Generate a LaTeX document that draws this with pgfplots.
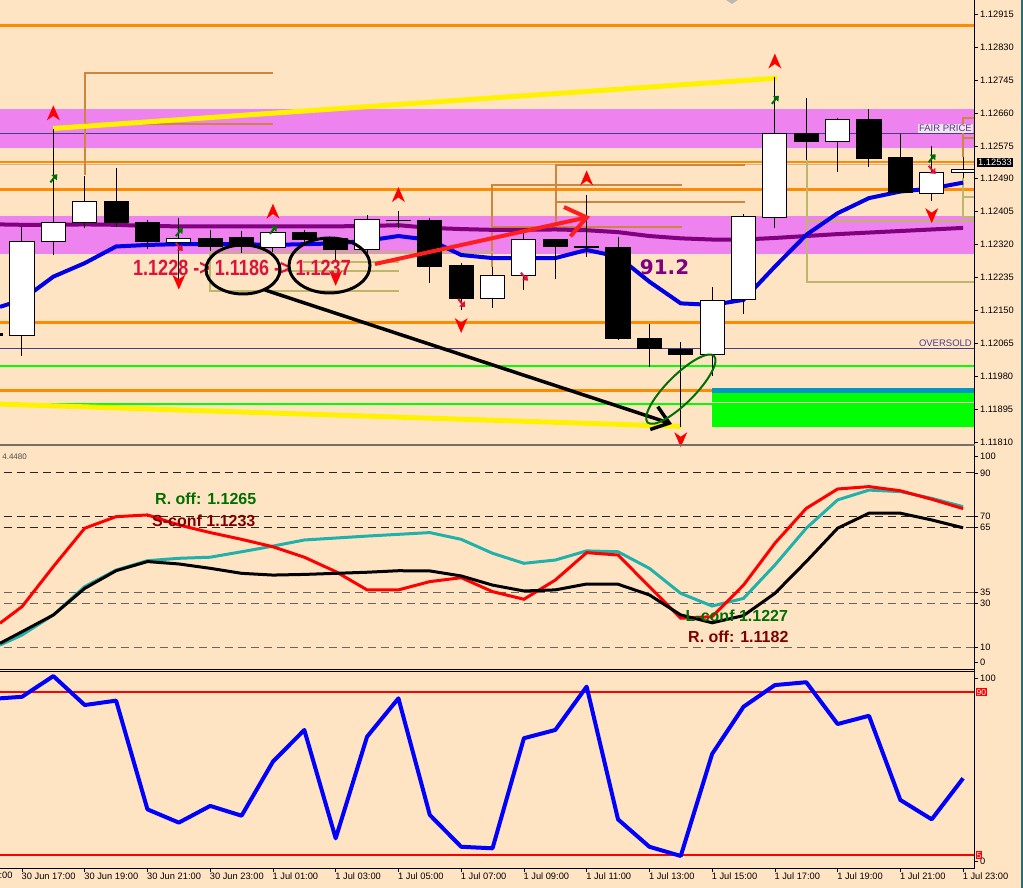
\documentclass[border=0pt]{standalone}
\usepackage{pgfplots}
\pgfplotsset{compat=1.18}
\usetikzlibrary{arrows.meta}
\usepackage{fontspec}
\setmainfont{Liberation Sans}
\newfontfamily\dejavu{DejaVu Sans}

\definecolor{bg}{RGB}{255,228,196}
\definecolor{band}{RGB}{238,130,238}
\definecolor{dorange}{RGB}{255,140,0}
\definecolor{maBlue}{RGB}{0,0,230}
\definecolor{maPurple}{RGB}{128,0,128}
\definecolor{peru}{RGB}{205,133,63}
\definecolor{khaki}{RGB}{189,183,107}
\definecolor{limeg}{RGB}{0,255,0}
\definecolor{lsea}{RGB}{32,178,170}
\definecolor{crim}{RGB}{220,20,60}
\definecolor{dslate}{RGB}{72,61,139}
\definecolor{dgreen}{RGB}{0,110,0}
\definecolor{maroonc}{RGB}{128,0,0}
\definecolor{tanl}{RGB}{210,180,140}
\definecolor{teal2}{RGB}{0,150,200}
\definecolor{sepgray}{RGB}{120,110,100}
\definecolor{arrred}{RGB}{255,30,30}

\pgfdeclareplotmark{fup}{%
 \pgfpathmoveto{\pgfqpoint{0pt}{8pt}}%
 \pgfpathlineto{\pgfqpoint{6.5pt}{-7pt}}%
 \pgfpathlineto{\pgfqpoint{0pt}{-2.5pt}}%
 \pgfpathlineto{\pgfqpoint{-6.5pt}{-7pt}}%
 \pgfpathclose\pgfusepathqfill}
\pgfdeclareplotmark{fdn}{%
 \pgfpathmoveto{\pgfqpoint{0pt}{-8pt}}%
 \pgfpathlineto{\pgfqpoint{6.5pt}{7pt}}%
 \pgfpathlineto{\pgfqpoint{0pt}{2.5pt}}%
 \pgfpathlineto{\pgfqpoint{-6.5pt}{7pt}}%
 \pgfpathclose\pgfusepathqfill}
\pgfdeclareplotmark{gar}{%
 \pgfsetlinewidth{2pt}%
 \pgfpathmoveto{\pgfqpoint{-3pt}{-4pt}}\pgfpathlineto{\pgfqpoint{1.5pt}{1.5pt}}\pgfusepathqstroke
 \pgfpathmoveto{\pgfqpoint{4pt}{4pt}}\pgfpathlineto{\pgfqpoint{-2pt}{3.5pt}}\pgfpathlineto{\pgfqpoint{3.5pt}{-2pt}}\pgfpathclose\pgfusepathqfill}
\pgfdeclareplotmark{rar}{%
 \pgfsetlinewidth{2pt}%
 \pgfpathmoveto{\pgfqpoint{-3pt}{4pt}}\pgfpathlineto{\pgfqpoint{1.5pt}{-1.5pt}}\pgfusepathqstroke
 \pgfpathmoveto{\pgfqpoint{4pt}{-4pt}}\pgfpathlineto{\pgfqpoint{-2pt}{-3.5pt}}\pgfpathlineto{\pgfqpoint{3.5pt}{2pt}}\pgfpathclose\pgfusepathqfill}

\pgfplotsset{
 mt/.style={scale only axis, width=974.5pt, xmin=-0.701, xmax=30.364,
   axis line style={draw=none}, ytick pos=right, yticklabel pos=right,
   tick align=outside, major tick length=3pt, tick style={black, line width=0.6pt},
   ticklabel style={font=\fontsize{9.3}{10}\selectfont},
   yticklabel style={anchor=west, inner sep=1pt, xshift=1.5pt},
   clip=true, anchor=north west},
 cw/.style={draw=black, fill=white, line width=1pt, solid},
 cb/.style={draw=black, fill=black, line width=1pt, solid},
}
% k, left, right, low, body low, body high, high, style
\newcommand{\candle}[8]{%
 \addplot[black, line width=1pt] coordinates {(#1,#4) (#1,#7)};
 \addplot[#8] coordinates {(#2,#5) (#3,#5) (#3,#6) (#2,#6)} -- cycle;}

\begin{document}
\begin{tikzpicture}
\useasboundingbox (0,0) rectangle (1023pt,888pt);
\fill[bg] (0,0) rectangle (1023pt,888pt);

% ================= PRICE PANEL =================
\begin{axis}[mt, at={(0pt,888pt)}, height=445pt,
  ymin=1.11802, ymax=1.12952, xtick=\empty,
  ytick={1.11810,1.11895,1.11980,1.12065,1.12150,1.12235,1.12320,1.12405,1.12490,1.12575,1.12660,1.12745,1.12830,1.12915},
  yticklabels={1.11810,1.11895,1.11980,1.12065,1.12150,1.12235,1.12320,1.12405,1.12490,1.12575,1.12660,1.12745,1.12830,1.12915}]
% bands
\addplot[draw=none, fill=band] coordinates {(-1,1.12570) (31,1.12570) (31,1.12670) (-1,1.12670)} -- cycle;
\addplot[draw=none, fill=band] coordinates {(-1,1.12296) (31,1.12296) (31,1.12394) (-1,1.12394)} -- cycle;
% thin level lines
\addplot[dslate, line width=0.8pt] coordinates {(-1,1.12606) (31,1.12606)};
\addplot[dslate, line width=0.8pt] coordinates {(-1,1.12051) (31,1.12051)};
% orange levels
\addplot[dorange, line width=3pt] coordinates {(-1,1.12887) (31,1.12887)};
\addplot[dorange, line width=1.5pt] coordinates {(-1,1.12533) (31,1.12533)};
\addplot[tanl, line width=1pt] coordinates {(-1,1.12527) (31,1.12527)};
\addplot[dorange, line width=3pt] coordinates {(-1,1.12461) (31,1.12461)};
\addplot[dorange, line width=3pt] coordinates {(-1,1.12118) (31,1.12118)};
\addplot[dorange, line width=3pt] coordinates {(-1,1.11942) (31,1.11942)};
% green levels
\addplot[limeg, line width=2pt] coordinates {(-1,1.12007) (31,1.12007)};
\addplot[limeg, line width=2pt] coordinates {(-1,1.11908) (31,1.11908)};
% green zone
\addplot[draw=none, fill=teal2] coordinates {(22,1.11936) (31,1.11936) (31,1.11949) (22,1.11949)} -- cycle;
\addplot[draw=none, fill=limeg] coordinates {(22,1.11914) (31,1.11914) (31,1.11936) (22,1.11936)} -- cycle;
\addplot[draw=none, fill=limeg] coordinates {(22,1.11849) (31,1.11849) (31,1.11905) (22,1.11905)} -- cycle;
% brown brackets
\addplot[peru, line width=2pt] coordinates {(8.0,1.12764) (2.01,1.12764) (2.01,1.12500)};
\addplot[peru, line width=2pt] coordinates {(2.01,1.12632) (8.0,1.12632)};
\addplot[peru, line width=2pt] coordinates {(21.03,1.12474) (14.99,1.12474) (14.99,1.12263)};
\addplot[peru, line width=2pt] coordinates {(14.99,1.12366) (21.03,1.12366)};
\addplot[peru, line width=2pt] coordinates {(17.02,1.12528) (17.02,1.12358)};
\addplot[peru, line width=2pt] coordinates {(17.02,1.12431) (23.05,1.12431)};
\addplot[peru, line width=1.5pt] coordinates {(17.02,1.12526) (23.05,1.12526)};
\addplot[peru, line width=2pt] coordinates {(31,1.12647) (30.01,1.12647) (30.01,1.12545)};
\addplot[peru, line width=2pt] coordinates {(30.01,1.12595) (31,1.12595)};
% khaki brackets
\addplot[khaki, line width=2pt] coordinates {(15.01,1.12301) (5.99,1.12301) (5.99,1.12201) (12.02,1.12201)};
\addplot[khaki, line width=2pt] coordinates {(8.96,1.12274) (12.02,1.12274)};
\addplot[khaki, line width=2pt] coordinates {(8.22,1.12252) (12.02,1.12252)};
\addplot[khaki, line width=2pt] coordinates {(25.01,1.12381) (31,1.12381)};
\addplot[khaki, line width=2pt] coordinates {(25.01,1.12538) (25.01,1.12223) (31,1.12223)};
\addplot[khaki, line width=2pt] coordinates {(30,1.12492) (30,1.12392) (31,1.12392)};
\addplot[khaki, line width=2pt] coordinates {(30,1.12444) (31,1.12444)};
% yellow trend lines
\addplot[yellow, line width=5pt] coordinates {(0.99,1.12620) (24.07,1.12750)};
\addplot[yellow, line width=5pt] coordinates {(-0.8,1.11908) (21.03,1.11850)};
% moving averages
\addplot[maPurple, line width=4pt] coordinates {(-0.7,1.12372) (0,1.12371) (1,1.12371) (2,1.12372) (3,1.12371) (4,1.12368) (5,1.12367) (6,1.12367) (7,1.12367) (8,1.12367) (9,1.12367) (10,1.12367) (11,1.12368) (12,1.12370) (13,1.12363) (14,1.12360) (15,1.12358) (16,1.12358) (17,1.12359) (18,1.12357) (19,1.12352) (20,1.12342) (21,1.12336) (22,1.12333) (23,1.12333) (24,1.12337) (25,1.12342) (26,1.12347) (27,1.12351) (28,1.12355) (29,1.12359) (30,1.12363)};
\addplot[maBlue, line width=4pt] coordinates {(-0.7,1.12159) (0,1.12177) (1,1.12237) (2,1.12272) (3,1.12315) (4,1.12319) (5,1.12321) (6,1.12321) (7,1.12321) (8,1.12319) (9,1.12321) (10,1.12323) (11,1.12330) (12,1.12342) (13,1.12332) (14,1.12293) (15,1.12285) (16,1.12285) (17,1.12285) (18,1.12306) (19,1.12289) (20,1.12224) (21,1.12168) (22,1.12164) (23,1.12177) (24,1.12263) (25,1.12345) (26,1.12401) (27,1.12440) (28,1.12457) (29,1.12465) (30,1.12480)};
% candles: k, left, right, low, body low, body high, high
\candle{-1}{-1.385}{-0.615}{1.12070}{1.12085}{1.12090}{1.12100}{cb}
\candle{0}{-0.385}{0.385}{1.12033}{1.12085}{1.12327}{1.12366}{cw}
\candle{1}{0.615}{1.385}{1.12294}{1.12328}{1.12378}{1.12618}{cw}
\candle{2}{1.615}{2.385}{1.12362}{1.12377}{1.12432}{1.12498}{cw}
\candle{3}{2.615}{3.385}{1.12365}{1.12377}{1.12432}{1.12518}{cb}
\candle{4}{3.615}{4.385}{1.12308}{1.12327}{1.12377}{1.12383}{cb}
\candle{5}{4.615}{5.385}{1.12228}{1.12326}{1.12335}{1.12388}{cw}
\candle{6}{5.615}{6.385}{1.12304}{1.12315}{1.12335}{1.12358}{cb}
\candle{7}{6.615}{7.385}{1.12298}{1.12315}{1.12339}{1.12355}{cb}
\candle{8}{7.615}{8.385}{1.12302}{1.12313}{1.12351}{1.12358}{cw}
\candle{9}{8.615}{9.385}{1.12323}{1.12334}{1.12351}{1.12358}{cb}
\candle{10}{9.615}{10.385}{1.12280}{1.12308}{1.12335}{1.12340}{cb}
\candle{11}{10.615}{11.385}{1.12297}{1.12308}{1.12386}{1.12396}{cw}
\candle{12}{11.615}{12.385}{1.12363}{1.12382}{1.12383}{1.12406}{cb}
\candle{13}{12.615}{13.385}{1.12220}{1.12263}{1.12383}{1.12388}{cb}
\candle{14}{13.615}{14.385}{1.12151}{1.12180}{1.12265}{1.12272}{cb}
\candle{15}{14.615}{15.385}{1.12155}{1.12180}{1.12241}{1.12263}{cw}
\candle{16}{15.615}{16.385}{1.12203}{1.12241}{1.12334}{1.12349}{cw}
\candle{17}{16.615}{17.385}{1.12230}{1.12315}{1.12334}{1.12335}{cb}
\candle{18}{17.615}{18.385}{1.12289}{1.12313}{1.12314}{1.12448}{cb}
\candle{19}{18.615}{19.385}{1.12074}{1.12076}{1.12313}{1.12339}{cb}
\candle{20}{19.615}{20.385}{1.12003}{1.12052}{1.12076}{1.12114}{cb}
\candle{21}{20.615}{21.385}{1.11848}{1.12036}{1.12050}{1.12067}{cb}
\candle{22}{21.615}{22.385}{1.11981}{1.12036}{1.12175}{1.12210}{cw}
\candle{23}{22.615}{23.385}{1.12140}{1.12179}{1.12392}{1.12398}{cw}
\candle{24}{23.615}{24.385}{1.12364}{1.12390}{1.12606}{1.12752}{cw}
\candle{25}{24.615}{25.385}{1.12538}{1.12586}{1.12606}{1.12698}{cb}
\candle{26}{25.615}{26.385}{1.12507}{1.12586}{1.12644}{1.12648}{cw}
\candle{27}{26.615}{27.385}{1.12521}{1.12542}{1.12642}{1.12670}{cb}
\candle{28}{27.615}{28.385}{1.12452}{1.12454}{1.12545}{1.12606}{cb}
\candle{29}{28.615}{29.385}{1.12432}{1.12452}{1.12507}{1.12575}{cw}
\candle{30}{29.615}{30.385}{1.12491}{1.12506}{1.12513}{1.12547}{cw}
% signal marks
\addplot[only marks, mark=fup, color=red] coordinates {(1,1.12659) (8,1.12405) (12,1.12448) (18,1.12491) (24,1.12793)};
\addplot[only marks, mark=fdn, color=red] coordinates {(5,1.12224) (10,1.12234) (14,1.12112) (21,1.11817) (29,1.12396)};
\addplot[only marks, mark=gar, color=dgreen] coordinates {(1,1.12491) (5,1.12352) (8,1.12358) (24,1.12694) (29,1.12543)};
\addplot[only marks, mark=rar, color=crim] coordinates {(5,1.12314) (14,1.12169) (16,1.12237) (29,1.12513)};
\end{axis}

% ================= OSCILLATOR 1 =================
\begin{axis}[mt, at={(0pt,442pt)}, height=223.5pt,
  ymin=-0.23, ymax=102.34, xtick=\empty,
  ytick={2.89,10,30,35,65,70,90,97.75}, yticklabels={0,10,30,35,65,70,90,100}]
\addplot[black!85, line width=0.8pt, dash pattern=on 8pt off 5pt] coordinates {(-1,90) (31,90)};
\addplot[black!85, line width=0.8pt, dash pattern=on 8pt off 5pt] coordinates {(-1,70) (31,70)};
\addplot[black!85, line width=0.8pt, dash pattern=on 8pt off 5pt] coordinates {(-1,65) (31,65)};
\addplot[black!60, line width=0.8pt, dash pattern=on 8pt off 5pt] coordinates {(-1,35) (31,35)};
\addplot[black!60, line width=0.8pt, dash pattern=on 8pt off 5pt] coordinates {(-1,30) (31,30)};
\addplot[black!60, line width=0.8pt, dash pattern=on 8pt off 5pt] coordinates {(-1,10) (31,10)};
\addplot[lsea, line width=3pt] coordinates {(-0.7,11) (0,15.6) (1,24.8) (2,37.8) (3,45.4) (4,49.7) (5,50.8) (6,51.3) (7,53.8) (8,56.4) (9,59.2) (10,60.1) (11,61) (12,61.8) (13,62.6) (14,59.5) (15,53.1) (16,48.5) (17,50) (18,54.2) (19,53.8) (20,46.2) (21,34.7) (22,28.9) (23,32.4) (24,47.7) (25,64.6) (26,77.6) (27,82.1) (28,81.4) (29,78.3) (30,74.5)};
\addplot[red, line width=3pt] coordinates {(-0.7,21) (0,28.6) (1,47) (2,64.6) (3,69.9) (4,70.7) (5,66.1) (6,62.6) (7,59.5) (8,56.1) (9,51.3) (10,44.7) (11,36.3) (12,36.3) (13,40.1) (14,41.9) (15,35.5) (16,32) (17,40.8) (18,53.4) (19,52.3) (20,37.8) (21,23.3) (22,24) (23,38.5) (24,57.7) (25,73.7) (26,82.6) (27,83.7) (28,81.8) (29,77.9) (30,73.6)};
\addplot[black, line width=3pt] coordinates {(-0.7,11.8) (0,17.1) (1,24.8) (2,37) (3,45.1) (4,49.3) (5,48.2) (6,46.2) (7,43.9) (8,43.1) (9,43.4) (10,43.9) (11,44.4) (12,45.1) (13,45) (14,42.7) (15,38.5) (16,35.8) (17,36.3) (18,39) (19,38.9) (20,34) (21,24.8) (22,21.2) (23,24.5) (24,34.7) (25,49.3) (26,64.6) (27,71.5) (28,71.5) (29,68.4) (30,64.8)};
\end{axis}

% ================= OSCILLATOR 2 =================
\begin{axis}[mt, at={(0pt,216pt)}, height=196.7pt,
  ymin=-1.93, ymax=100.63,
  ytick={1.8,97.3}, yticklabels={0,100},
  xtick={0,2,...,30}, xtick pos=left,
  xticklabels={30 Jun 17:00,30 Jun 19:00,30 Jun 21:00,30 Jun 23:00,1 Jul 01:00,1 Jul 03:00,1 Jul 05:00,1 Jul 07:00,1 Jul 09:00,1 Jul 11:00,1 Jul 13:00,1 Jul 15:00,1 Jul 17:00,1 Jul 19:00,1 Jul 21:00,1 Jul 23:00},
  xticklabel style={anchor=north west, xshift=-1.5pt, inner sep=1pt}]
\addplot[red, line width=2pt] coordinates {(-1,90) (31,90)};
\addplot[red, line width=2pt] coordinates {(-1,5) (31,5)};
\addplot[blue, line width=4pt, line join=round] coordinates {(-0.7,86.9) (0,87.7) (1,98.5) (2,83.4) (3,85.7) (4,29.0) (5,22.1) (6,30.8) (7,25.7) (8,53.9) (9,70.4) (10,13.9) (11,66.9) (12,86.9) (13,26.1) (14,9.5) (15,8.7) (16,66.1) (17,70.4) (18,93.0) (19,23.8) (20,9.5) (21,4.7) (22,57.9) (23,82.5) (24,93.8) (25,95.3) (26,73.5) (27,77.8) (28,33.9) (29,23.8) (30,45.2)};
\end{axis}

% ================= frames and annotations (pixel coordinates) =================
\begin{scope}[shift={(0pt,888pt)}, x=1pt, y=-1pt]
\draw[black, line width=1pt] (974.5,0) -- (974.5,869);
\draw[sepgray, line width=2.5pt] (0,445) -- (974.5,445);
\draw[black, line width=0.8pt] (0,669.5) -- (974.5,669.5);
\draw[black, line width=0.8pt] (0,671.8) -- (974.5,671.8);
\draw[black, line width=1pt] (0,868.7) -- (974.5,868.7);
\draw[color={rgb,255:red,40;green,110;blue,120}, line width=2pt] (1021.5,0) -- (1021.5,888);
\fill[gray!55] (726,0) -- (738,0) -- (732,4) -- cycle;
% left cut labels
\node[anchor=north west, inner sep=1pt, font=\fontsize{9.3}{10}\selectfont] at (-42.5,870.5) {30 Jun 15:00};
\node[anchor=east, inner sep=0, text=black!70, font=\fontsize{8}{9}\selectfont] at (27,457) {4.4480};
% price labels
\node[anchor=south east, inner sep=1pt, fill={rgb,255:red,246;green,226;blue,240}, text=dslate, font=\fontsize{9.5}{10}\selectfont] at (973,133) {FAIR PRICE};
\node[anchor=south east, inner sep=1pt, text=dslate, font=\fontsize{9.5}{10}\selectfont] at (973,348) {OVERSOLD};
\node[anchor=west, inner sep=1.5pt, fill=black, text=white, font=\fontsize{9.3}{10}\selectfont] at (976.5,162.5) {1.12533};
\node[anchor=west, inner sep=1pt, fill=red, text=white, font=\fontsize{8.5}{9}\selectfont] at (975.5,692.3) {90};
\node[anchor=west, inner sep=1pt, fill=red, text=white, font=\fontsize{8.5}{9}\selectfont] at (975.5,855.4) {5};
% texts
\node[text=maPurple, font=\dejavu\fontsize{20}{20}\selectfont\bfseries, inner sep=0] at (664.5,267) {91.2};
\node[text=crim, inner sep=0] at (242,268) {\scalebox{0.82}[1]{\fontsize{22}{22}\selectfont\bfseries 1.1228 -> 1.1186 -> 1.1237}};
\draw[black, line width=3pt] (243,269.5) ellipse [x radius=37pt, y radius=24.5pt];
\draw[black, line width=3pt] (329.5,265.5) ellipse [x radius=40.5pt, y radius=27.5pt];
\draw[black, line width=3.5pt, -{Straight Barb[length=16pt, width=24pt]}] (265,290) -- (672,424);
\draw[arrred, line width=4pt, -{Straight Barb[length=20pt, width=30pt]}] (375,264) -- (590,216.7);
\draw[dgreen, line width=2pt, rotate around={45:(680.8,389.2)}] (680.8,389.2) ellipse [x radius=47pt, y radius=14pt];
% oscillator texts
\node[anchor=west, inner sep=0, text=dgreen, font=\fontsize{16}{16}\selectfont\bfseries] at (155,498.3) {R. off: 1.1265};
\node[anchor=west, inner sep=0, text=maroonc, font=\fontsize{16}{16}\selectfont\bfseries] at (152,521) {S-conf 1.1233};
\node[anchor=west, inner sep=0, text=dgreen, font=\fontsize{16}{16}\selectfont\bfseries] at (685.5,615.7) {L-conf 1.1227};
\node[anchor=west, inner sep=0, text=maroonc, font=\fontsize{16}{16}\selectfont\bfseries] at (688,636.7) {R. off: 1.1182};
\end{scope}
\end{tikzpicture}
\end{document}
